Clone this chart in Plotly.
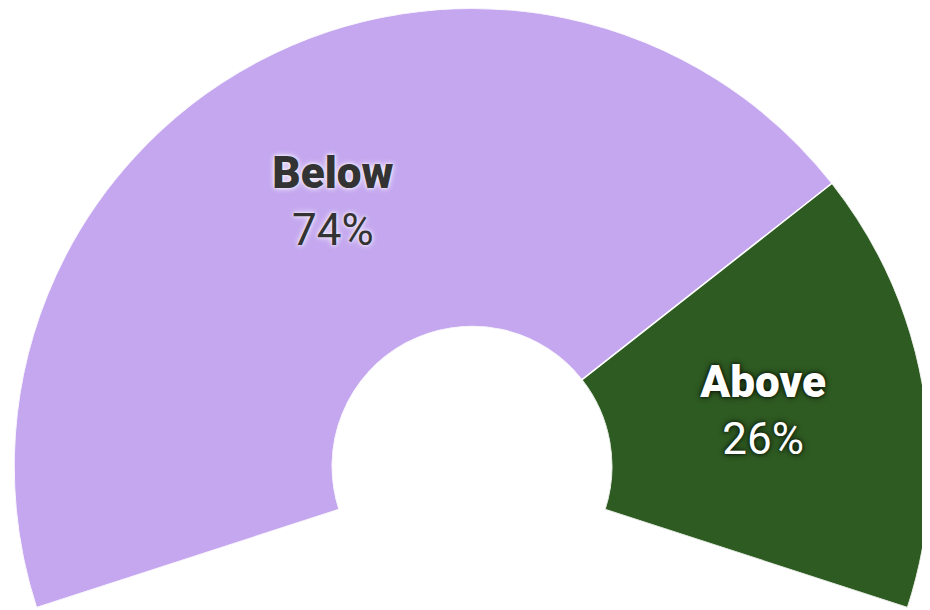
import plotly.graph_objects as go

# Data
labels = ["Below", "Above"]
values = [74, 26]
colors = ["#C4A7EF", "#2E5B22"]
text_colors = ["#333333", "#FFFFFF"]
text_shadows = ["0px 0px 6px rgba(255,255,255,0.95), 0px 0px 3px rgba(255,255,255,0.8)",
                "0px 0px 6px rgba(0,0,0,0.85), 0px 0px 3px rgba(0,0,0,0.6)"]

# Gauge geometry (visible arc from START clockwise to END)
START = 198.0
END = -18.0
span = START - END
total = sum(values)

thetas, widths = [], []
cur = START
for v in values:
    w = span * v / total
    thetas.append(cur - w / 2)
    widths.append(w)
    cur -= w

fig = go.Figure()
fig.add_trace(go.Barpolar(
    r=[1] * len(values),
    theta=thetas,
    width=widths,
    marker=dict(color=colors, line=dict(color="white", width=1.5)),
    hoverinfo="skip",
    showlegend=False,
))

for lab, val, th, tc, sh in zip(labels, values, thetas, text_colors, text_shadows):
    fig.add_trace(go.Scatterpolar(
        r=[0.49],
        theta=[th],
        mode="text",
        text=[f"<span style='font-weight:900'>{lab}</span><br>{val}%"],
        textposition="middle center",
        textfont=dict(family="Roboto", size=44, color=tc, shadow=sh),
        hoverinfo="skip",
        showlegend=False,
    ))

fig.update_layout(
    width=930,
    height=610,
    margin=dict(l=6, r=8, t=0, b=10),
    paper_bgcolor="white",
    plot_bgcolor="white",
    polar=dict(
        sector=[END, START],
        hole=0.305,
        bgcolor="white",
        radialaxis=dict(visible=False, range=[0, 1]),
        angularaxis=dict(visible=False, direction="counterclockwise", rotation=0),
        bargap=0,
    ),
)

fig.write_html("out.html")
